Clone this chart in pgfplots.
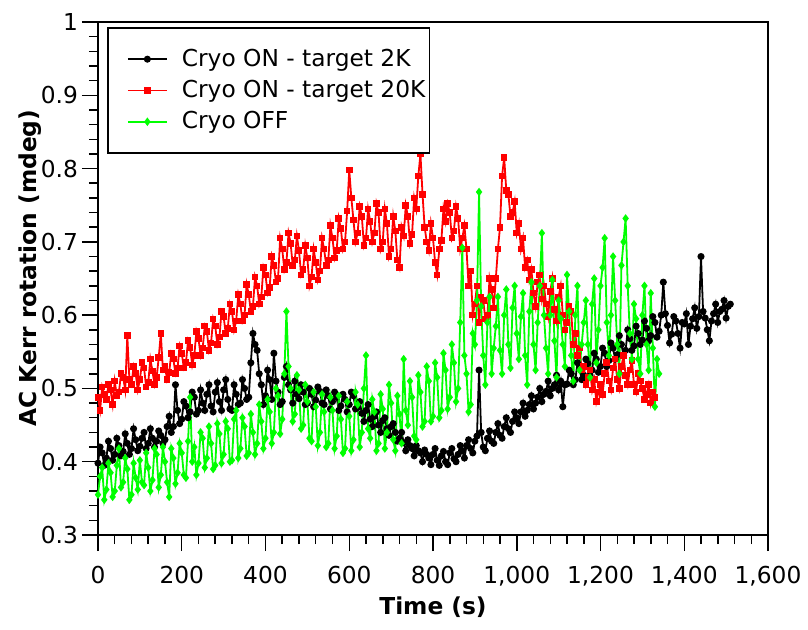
\documentclass[border=0pt]{standalone}
\usepackage{fontspec}
\setmainfont{DejaVu Sans}
\usepackage{pgfplots}
\pgfplotsset{compat=1.18}
\definecolor{cgreen}{RGB}{0,255,0}
\definecolor{cred}{RGB}{255,0,0}
\begin{document}
\begin{tikzpicture}
\begin{axis}[
  scale only axis,
  width=335bp, height=256.5bp,
  xmin=0, xmax=1600, ymin=0.3, ymax=1,
  xtick={0,200,400,600,800,1000,1200,1400,1600},
  ytick={0.3,0.4,0.5,0.6,0.7,0.8,0.9,1},
  minor x tick num=4, minor y tick num=4,
  tick align=outside, tick pos=left,
  major tick length=8bp, minor tick length=4.5bp,
  tick style={black, line width=0.75bp},
  axis line style={line width=0.9bp},
  scaled x ticks=false, scaled y ticks=false,
  /pgf/number format/assume math mode=true,
  x tick label style={/pgf/number format/1000 sep={,}, yshift=-4bp},
  y tick label style={xshift=1.5bp},
  ticklabel style={font=\fontsize{11.7}{14}\selectfont},
  xlabel={Time (s)}, ylabel={AC Kerr rotation (mdeg)},
  label style={font=\bfseries\fontsize{11.7}{14}\selectfont},
  xlabel style={at={(axis description cs:0.5,-0.1404)}, anchor=center},
  ylabel style={at={(axis description cs:-0.1015,0.52)}, anchor=center},
  legend style={at={(axis description cs:0.0134,0.990)}, anchor=north west,
    draw=black, line width=0.9bp, inner xsep=2bp, inner ysep=10.5bp,
    row sep=5.5bp, nodes={inner sep=0pt},
    font=\fontsize{11.7}{14}\selectfont},
  legend cell align=left,
  legend image code/.code={
    \path[draw=none,fill=none] (0bp,0bp) -- (35bp,0bp);
    \draw[mark repeat=2,mark phase=2,#1] plot coordinates {(8bp,0bp) (17.75bp,0bp) (27.5bp,0bp)};
  },
]
\addplot[black, line width=0.9bp, mark=*, mark size=1.3bp] table {
t v
0 0.398
5 0.420
10 0.412
15 0.395
20 0.405
25 0.428
30 0.418
35 0.402
40 0.410
45 0.432
50 0.422
55 0.408
60 0.414
65 0.438
70 0.425
75 0.410
80 0.418
85 0.445
90 0.430
95 0.415
100 0.421
105 0.432
110 0.440
115 0.418
120 0.425
125 0.445
130 0.432
135 0.420
140 0.428
145 0.442
150 0.436
155 0.425
160 0.430
165 0.448
170 0.462
175 0.440
180 0.448
185 0.505
190 0.470
195 0.452
200 0.458
205 0.482
210 0.476
215 0.460
220 0.468
225 0.495
230 0.488
235 0.465
240 0.470
245 0.498
250 0.480
255 0.470
260 0.492
265 0.505
270 0.476
275 0.468
280 0.495
285 0.508
290 0.482
295 0.470
300 0.498
305 0.512
310 0.485
315 0.472
320 0.470
325 0.505
330 0.492
335 0.478
340 0.480
345 0.512
350 0.500
355 0.485
360 0.488
365 0.535
370 0.575
375 0.560
380 0.552
385 0.520
390 0.505
395 0.478
400 0.490
405 0.525
410 0.512
415 0.485
420 0.548
425 0.510
430 0.495
435 0.478
440 0.482
445 0.515
450 0.530
455 0.505
460 0.498
465 0.480
470 0.510
475 0.492
480 0.486
485 0.505
490 0.495
495 0.478
500 0.480
505 0.500
510 0.492
515 0.475
520 0.484
525 0.502
530 0.496
535 0.480
540 0.478
545 0.498
550 0.490
555 0.472
560 0.482
565 0.495
570 0.488
575 0.470
580 0.476
585 0.492
590 0.485
595 0.468
600 0.478
605 0.495
610 0.490
615 0.472
620 0.474
625 0.482
630 0.466
635 0.455
640 0.470
645 0.478
650 0.458
655 0.448
660 0.462
665 0.468
670 0.450
675 0.440
680 0.456
685 0.460
690 0.445
695 0.436
700 0.448
705 0.452
710 0.440
715 0.428
720 0.432
725 0.440
730 0.426
735 0.415
740 0.430
745 0.422
750 0.418
755 0.408
760 0.422
765 0.415
770 0.412
775 0.400
780 0.416
785 0.410
790 0.405
795 0.396
800 0.410
805 0.418
810 0.402
815 0.395
820 0.408
825 0.414
830 0.400
835 0.396
840 0.412
845 0.418
850 0.404
855 0.400
860 0.410
865 0.422
870 0.415
875 0.405
880 0.422
885 0.430
890 0.418
895 0.412
900 0.428
905 0.435
910 0.525
915 0.440
920 0.420
925 0.415
930 0.432
935 0.442
940 0.428
945 0.425
950 0.440
955 0.452
960 0.436
965 0.432
970 0.448
975 0.460
980 0.445
985 0.440
990 0.455
995 0.468
1000 0.460
1005 0.452
1010 0.468
1015 0.480
1020 0.462
1025 0.470
1030 0.478
1035 0.490
1040 0.472
1045 0.480
1050 0.488
1055 0.500
1060 0.482
1065 0.492
1070 0.496
1075 0.510
1080 0.490
1085 0.500
1090 0.505
1095 0.518
1100 0.498
1105 0.510
1110 0.475
1115 0.505
1120 0.506
1125 0.525
1130 0.520
1135 0.505
1140 0.512
1145 0.535
1150 0.528
1155 0.512
1160 0.518
1165 0.540
1170 0.534
1175 0.518
1180 0.525
1185 0.548
1190 0.540
1195 0.522
1200 0.530
1205 0.555
1210 0.548
1215 0.530
1220 0.538
1225 0.562
1230 0.555
1235 0.540
1240 0.546
1245 0.572
1250 0.560
1255 0.545
1260 0.552
1265 0.580
1270 0.568
1275 0.552
1280 0.558
1285 0.585
1290 0.575
1295 0.560
1300 0.566
1305 0.592
1310 0.582
1315 0.565
1320 0.572
1325 0.598
1330 0.590
1335 0.570
1340 0.578
1345 0.600
1350 0.645
1355 0.602
1360 0.586
1365 0.562
1370 0.574
1375 0.598
1380 0.592
1385 0.575
1390 0.555
1395 0.590
1400 0.588
1405 0.602
1410 0.560
1415 0.585
1420 0.595
1425 0.610
1430 0.582
1435 0.598
1440 0.680
1445 0.605
1450 0.596
1455 0.580
1460 0.565
1465 0.592
1470 0.602
1475 0.615
1480 0.590
1485 0.605
1490 0.608
1495 0.620
1500 0.596
1505 0.612
1510 0.615
};
\addlegendentry{Cryo ON - target 2K}
\addplot[cred, line width=0.9bp, mark=square*, mark size=1.2bp] table {
t v
0 0.488
5 0.470
10 0.502
15 0.492
20 0.485
25 0.505
30 0.498
35 0.478
40 0.510
45 0.490
50 0.495
55 0.520
60 0.515
65 0.498
70 0.572
75 0.512
80 0.505
85 0.530
90 0.520
95 0.498
100 0.512
105 0.535
110 0.528
115 0.502
120 0.508
125 0.540
130 0.524
135 0.505
140 0.515
145 0.542
150 0.575
155 0.525
160 0.530
165 0.512
170 0.522
175 0.548
180 0.540
185 0.520
190 0.528
195 0.558
200 0.548
205 0.528
210 0.535
215 0.565
220 0.556
225 0.532
230 0.545
235 0.578
240 0.568
245 0.545
250 0.555
255 0.585
260 0.578
265 0.552
270 0.562
275 0.595
280 0.585
285 0.560
290 0.570
295 0.605
300 0.598
305 0.575
310 0.582
315 0.615
320 0.605
325 0.580
330 0.592
335 0.628
340 0.615
345 0.592
350 0.600
355 0.642
360 0.628
365 0.605
370 0.612
375 0.652
380 0.640
385 0.615
390 0.625
395 0.665
400 0.655
405 0.630
410 0.638
415 0.680
420 0.668
425 0.645
430 0.650
435 0.705
440 0.690
445 0.662
450 0.672
455 0.712
460 0.698
465 0.668
470 0.675
475 0.708
480 0.688
485 0.655
490 0.662
495 0.695
500 0.678
505 0.640
510 0.652
515 0.690
520 0.672
525 0.648
530 0.660
535 0.705
540 0.690
545 0.668
550 0.675
555 0.722
560 0.705
565 0.678
570 0.688
575 0.732
580 0.718
585 0.690
590 0.700
595 0.742
600 0.798
605 0.760
610 0.730
615 0.700
620 0.712
625 0.748
630 0.735
635 0.695
640 0.705
645 0.745
650 0.728
655 0.700
660 0.712
665 0.752
670 0.740
675 0.690
680 0.700
685 0.745
690 0.725
695 0.680
700 0.690
705 0.735
710 0.715
715 0.675
720 0.665
725 0.720
730 0.708
735 0.750
740 0.735
745 0.698
750 0.710
755 0.760
760 0.745
765 0.790
770 0.820
775 0.765
780 0.720
785 0.700
790 0.688
795 0.725
800 0.705
805 0.672
810 0.655
815 0.690
820 0.702
825 0.745
830 0.728
835 0.752
840 0.740
845 0.705
850 0.715
855 0.748
860 0.732
865 0.690
870 0.705
875 0.722
880 0.690
885 0.640
890 0.660
895 0.600
900 0.615
905 0.640
910 0.590
915 0.625
920 0.620
925 0.595
930 0.600
935 0.650
940 0.635
945 0.610
950 0.650
955 0.690
960 0.720
965 0.790
970 0.815
975 0.770
980 0.765
985 0.735
990 0.740
995 0.755
1000 0.712
1005 0.725
1010 0.690
1015 0.705
1020 0.665
1025 0.675
1030 0.648
1035 0.662
1040 0.630
1045 0.612
1050 0.645
1055 0.655
1060 0.622
1065 0.640
1070 0.615
1075 0.598
1080 0.632
1085 0.650
1090 0.608
1095 0.592
1100 0.625
1105 0.640
1110 0.600
1115 0.580
1120 0.590
1125 0.612
1130 0.605
1135 0.560
1140 0.575
1145 0.545
1150 0.555
1155 0.525
1160 0.530
1165 0.505
1170 0.515
1175 0.525
1180 0.498
1185 0.512
1190 0.482
1195 0.495
1200 0.505
1205 0.492
1210 0.520
1215 0.535
1220 0.510
1225 0.498
1230 0.528
1235 0.540
1240 0.512
1245 0.500
1250 0.530
1255 0.545
1260 0.518
1265 0.505
1270 0.525
1275 0.538
1280 0.505
1285 0.495
1290 0.520
1295 0.510
1300 0.500
1305 0.485
1310 0.492
1315 0.505
1320 0.480
1325 0.495
1330 0.488
};
\addlegendentry{Cryo ON - target 20K}
\addplot[cgreen, line width=0.9bp, mark=diamond*, mark size=1.4bp] table {
t v
0 0.355
5 0.380
10 0.392
15 0.348
20 0.362
25 0.398
30 0.385
35 0.352
40 0.360
45 0.395
50 0.418
55 0.365
60 0.372
65 0.405
70 0.390
75 0.348
80 0.355
85 0.398
90 0.378
95 0.362
100 0.402
105 0.372
110 0.368
115 0.412
120 0.392
125 0.360
130 0.375
135 0.418
140 0.410
145 0.365
150 0.382
155 0.420
160 0.400
165 0.372
170 0.352
175 0.418
180 0.405
185 0.370
190 0.385
195 0.425
200 0.412
205 0.382
210 0.378
215 0.428
220 0.488
225 0.400
230 0.420
235 0.382
240 0.398
245 0.440
250 0.432
255 0.392
260 0.405
265 0.448
270 0.425
275 0.390
280 0.395
285 0.452
290 0.438
295 0.398
300 0.410
305 0.455
310 0.445
315 0.400
320 0.402
325 0.458
330 0.470
335 0.405
340 0.418
345 0.460
350 0.448
355 0.408
360 0.412
365 0.465
370 0.440
375 0.410
380 0.425
385 0.478
390 0.455
395 0.418
400 0.432
405 0.485
410 0.468
415 0.425
420 0.440
425 0.500
430 0.490
435 0.438
440 0.458
445 0.520
450 0.605
455 0.530
460 0.500
465 0.455
470 0.465
475 0.518
480 0.498
485 0.445
490 0.450
495 0.505
500 0.482
505 0.432
510 0.428
515 0.495
520 0.475
525 0.422
530 0.440
535 0.492
540 0.468
545 0.420
550 0.425
555 0.488
560 0.470
565 0.418
570 0.435
575 0.490
580 0.458
585 0.412
590 0.418
595 0.482
600 0.462
605 0.415
610 0.430
615 0.495
620 0.478
625 0.420
630 0.440
635 0.500
640 0.545
645 0.445
650 0.432
655 0.485
660 0.468
665 0.415
670 0.425
675 0.492
680 0.472
685 0.418
690 0.440
695 0.505
700 0.480
705 0.430
710 0.415
715 0.490
720 0.465
725 0.425
730 0.540
735 0.470
740 0.450
745 0.510
750 0.488
755 0.435
760 0.430
765 0.518
770 0.495
775 0.448
780 0.455
785 0.530
790 0.510
795 0.455
800 0.462
805 0.535
810 0.515
815 0.460
820 0.470
825 0.548
830 0.525
835 0.472
840 0.488
845 0.560
850 0.535
855 0.482
860 0.500
865 0.590
870 0.692
875 0.545
880 0.520
885 0.468
890 0.478
895 0.575
900 0.560
905 0.620
910 0.768
915 0.612
920 0.545
925 0.505
930 0.590
935 0.625
940 0.520
945 0.555
950 0.585
955 0.625
960 0.552
965 0.520
970 0.600
975 0.635
980 0.560
985 0.528
990 0.610
995 0.640
1000 0.575
1005 0.540
1010 0.598
1015 0.630
1020 0.545
1025 0.505
1030 0.605
1035 0.645
1040 0.560
1045 0.525
1050 0.590
1055 0.640
1060 0.712
1065 0.600
1070 0.555
1075 0.520
1080 0.600
1085 0.648
1090 0.565
1095 0.515
1100 0.620
1105 0.595
1110 0.560
1115 0.530
1120 0.655
1125 0.605
1130 0.545
1135 0.510
1140 0.600
1145 0.640
1150 0.525
1155 0.560
1160 0.590
1165 0.620
1170 0.560
1175 0.515
1180 0.615
1185 0.650
1190 0.535
1195 0.580
1200 0.640
1205 0.665
1210 0.705
1215 0.590
1220 0.545
1225 0.600
1230 0.680
1235 0.620
1240 0.560
1245 0.520
1250 0.668
1255 0.700
1260 0.732
1265 0.640
1270 0.575
1275 0.540
1280 0.615
1285 0.595
1290 0.540
1295 0.520
1300 0.600
1305 0.640
1310 0.560
1315 0.525
1320 0.630
1325 0.555
1330 0.475
1335 0.540
1340 0.520
};
\addlegendentry{Cryo OFF}
\end{axis}
\pgfresetboundingbox
\path[use as bounding box] (current axis.south west) ++(-49bp,-47.5bp) rectangle ++(404bp,315bp);
\end{tikzpicture}
\end{document}
